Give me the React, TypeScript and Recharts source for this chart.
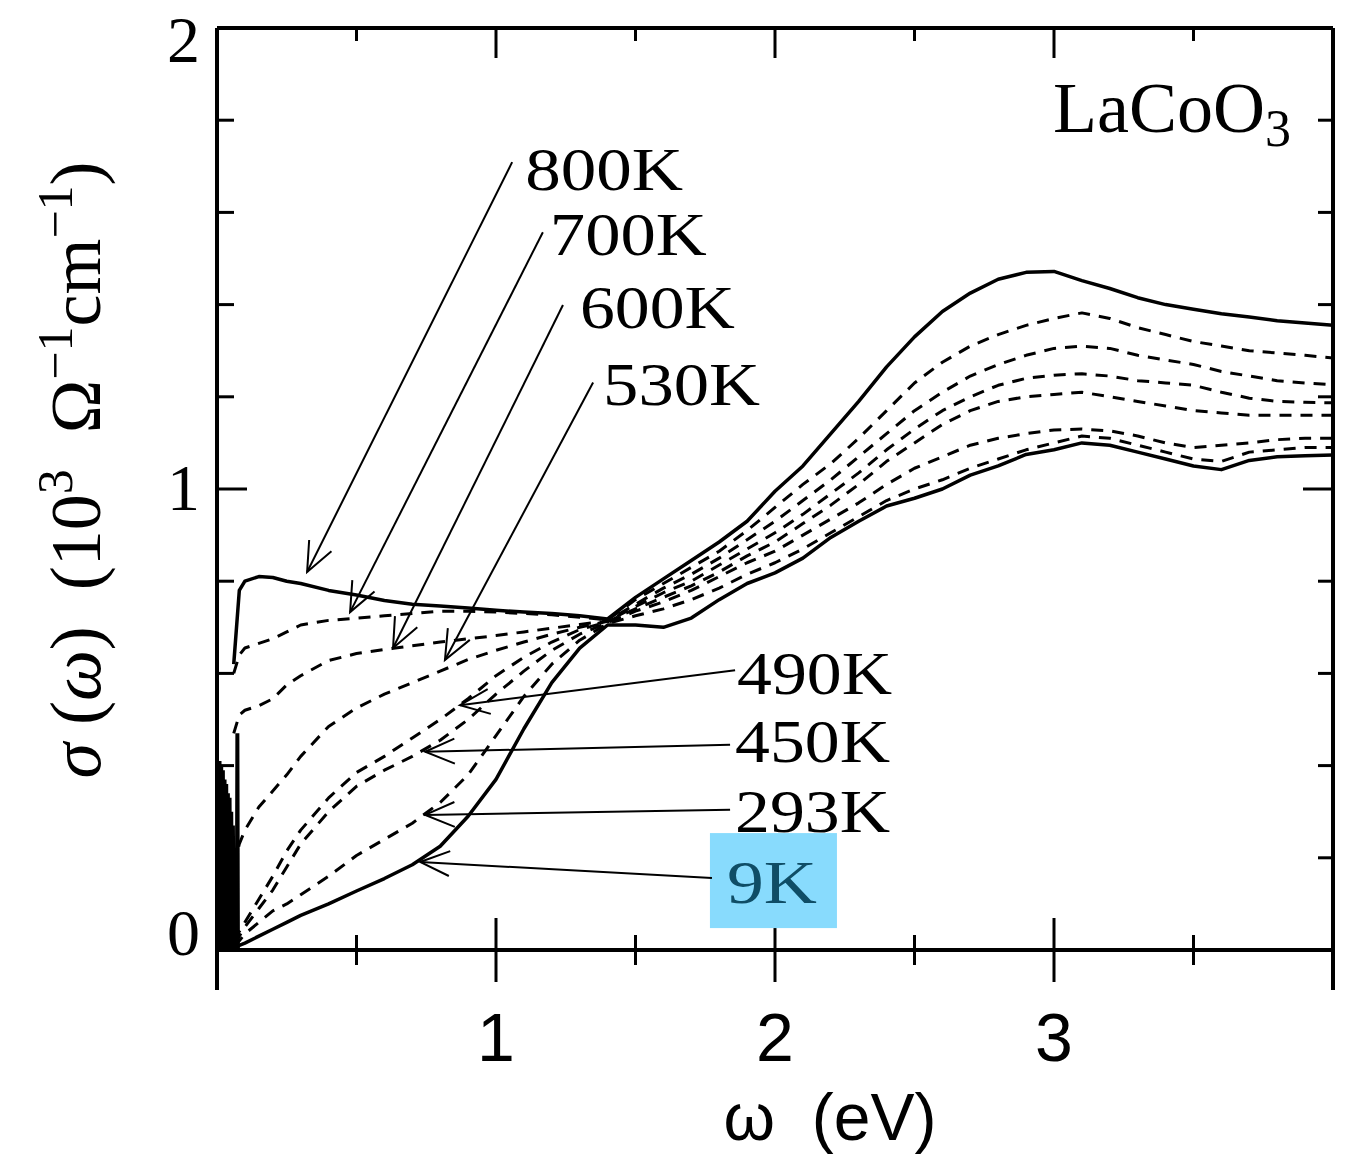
import React from "react";
import { LineChart, Line, XAxis, YAxis, ReferenceLine } from "recharts";

// photon energy grid (eV)
const W = [
  0.06, 0.08, 0.1, 0.15, 0.2, 0.25, 0.3, 0.4, 0.5, 0.6, 0.7, 0.8, 0.9, 1.0, 1.1, 1.2, 1.3, 1.4,
  1.5, 1.6, 1.7, 1.8, 1.9, 2.0, 2.1, 2.2, 2.3, 2.4, 2.5, 2.6, 2.7, 2.8, 2.9, 3.0, 3.1, 3.2, 3.3,
  3.4, 3.5, 3.6, 3.7, 3.8, 3.9, 4.0,
];

// sigma(omega) in 10^3 Ohm^-1 cm^-1
const S800 = [
  0.62, 0.78, 0.8, 0.81, 0.808, 0.8, 0.795, 0.78, 0.77, 0.758, 0.75, 0.746, 0.742, 0.737, 0.733, 0.73, 0.725, 0.718,
  0.765, 0.805, 0.845, 0.885, 0.93, 0.995, 1.05, 1.12, 1.19, 1.265, 1.33, 1.385, 1.425, 1.455, 1.47, 1.472, 1.452, 1.435, 1.415,
  1.4, 1.39, 1.38, 1.373, 1.365, 1.36, 1.355,
];
const S700 = [
  0.6, 0.64, 0.655, 0.665, 0.675, 0.69, 0.705, 0.715, 0.72, 0.725, 0.73, 0.735, 0.735, 0.733, 0.73, 0.727, 0.722, 0.716,
  0.76, 0.795, 0.83, 0.865, 0.91, 0.96, 1.01, 1.055, 1.11, 1.17, 1.23, 1.275, 1.31, 1.335, 1.355, 1.37, 1.382, 1.37, 1.35,
  1.335, 1.32, 1.31, 1.3, 1.295, 1.29, 1.284,
];
const S600 = [
  0.47, 0.51, 0.52, 0.53, 0.545, 0.575, 0.595, 0.628, 0.643, 0.652, 0.66, 0.668, 0.675, 0.682, 0.69, 0.698, 0.706, 0.714,
  0.75, 0.785, 0.815, 0.85, 0.89, 0.93, 0.975, 1.02, 1.07, 1.12, 1.17, 1.21, 1.245, 1.27, 1.29, 1.305, 1.31, 1.305, 1.29,
  1.28, 1.27, 1.255, 1.245, 1.235, 1.23, 1.226,
];
const S530 = [
  0.18, 0.23, 0.26, 0.31, 0.345, 0.38, 0.42, 0.485, 0.525, 0.555, 0.58, 0.605, 0.63, 0.65, 0.668, 0.685, 0.7, 0.713,
  0.745, 0.775, 0.8, 0.835, 0.87, 0.905, 0.945, 0.99, 1.035, 1.085, 1.13, 1.17, 1.2, 1.225, 1.24, 1.247, 1.25, 1.245, 1.235,
  1.23, 1.225, 1.21, 1.197, 1.19, 1.188, 1.187,
];
const S490 = [
  0.02, 0.04, 0.06, 0.11, 0.16, 0.215, 0.26, 0.33, 0.385, 0.42, 0.46, 0.5, 0.545, 0.595, 0.635, 0.668, 0.695, 0.712,
  0.74, 0.765, 0.79, 0.82, 0.855, 0.885, 0.925, 0.965, 1.01, 1.06, 1.1, 1.14, 1.17, 1.19, 1.2, 1.205, 1.21, 1.2, 1.19,
  1.18, 1.17, 1.165, 1.16, 1.16, 1.16, 1.16,
];
const S450 = [
  0.015, 0.03, 0.05, 0.09, 0.13, 0.18, 0.23, 0.3, 0.355, 0.39, 0.42, 0.455, 0.5, 0.555, 0.605, 0.65, 0.685, 0.71,
  0.735, 0.755, 0.78, 0.81, 0.84, 0.865, 0.9, 0.935, 0.97, 1.01, 1.045, 1.07, 1.095, 1.11, 1.12, 1.128, 1.13, 1.126, 1.115,
  1.1, 1.09, 1.095, 1.1, 1.107, 1.11, 1.11,
];
const S293 = [
  0.01, 0.02, 0.035, 0.06, 0.085, 0.1, 0.12, 0.16, 0.205, 0.24, 0.275, 0.32, 0.38, 0.465, 0.55, 0.62, 0.672, 0.708,
  0.725, 0.74, 0.76, 0.785, 0.815, 0.84, 0.87, 0.905, 0.94, 0.975, 1.0, 1.02, 1.045, 1.065, 1.085, 1.1, 1.115, 1.11, 1.095,
  1.08, 1.065, 1.06, 1.08, 1.085, 1.09, 1.09,
];
const S9 = [
  0.005, 0.01, 0.015, 0.03, 0.045, 0.06, 0.075, 0.1, 0.128, 0.155, 0.185, 0.225, 0.29, 0.37, 0.48, 0.58, 0.655, 0.705,
  0.705, 0.7, 0.72, 0.76, 0.795, 0.818, 0.85, 0.895, 0.93, 0.963, 0.98, 1.0, 1.03, 1.05, 1.075, 1.085, 1.1, 1.095, 1.08,
  1.065, 1.05, 1.042, 1.062, 1.07, 1.072, 1.074,
];

// far-infrared phonon structure below 0.08 eV
const PH_W = [
  0.0, 0.003, 0.006, 0.009, 0.012, 0.015, 0.018, 0.021, 0.024, 0.027, 0.03, 0.033, 0.036, 0.039, 0.042, 0.045,
  0.048, 0.051, 0.054, 0.057, 0.06, 0.063, 0.066, 0.069, 0.071, 0.073, 0.075,
];
const PH_S = [
  0.0, 0.4, 0.0, 0.41, 0.0, 0.4, 0.0, 0.39, 0.0, 0.37, 0.0, 0.36, 0.0, 0.34, 0.0, 0.33, 0.0, 0.3, 0.0, 0.27,
  0.0, 0.22, 0.0, 0.15, 0.0, 0.47, 0.0,
];

const SERIES = [
  { name: "800K", values: S800, dashed: false },
  { name: "700K", values: S700, dashed: true },
  { name: "600K", values: S600, dashed: true },
  { name: "530K", values: S530, dashed: true },
  { name: "490K", values: S490, dashed: true },
  { name: "450K", values: S450, dashed: true },
  { name: "293K", values: S293, dashed: true },
  { name: "9K", values: S9, dashed: false },
];

// label arrows: start (near label) -> tip (on curve), in data units
const ARROW_LABELS = ["800K", "700K", "600K", "530K", "490K", "450K", "293K", "9K"];
const ARROW_FROM = [[1.058, 1.709], [1.168, 1.557], [1.24, 1.399], [1.348, 1.231], [1.857, 0.607], [1.839, 0.445], [1.839, 0.304], [1.774, 0.156]];
const ARROW_TIP = [[0.323, 0.82], [0.477, 0.733], [0.631, 0.655], [0.817, 0.629], [0.871, 0.531], [0.746, 0.43], [0.746, 0.293], [0.728, 0.191]];
const LABEL_OFFSET = [[13, 28], [7, 23], [17, 23], [10, 22], [2, 24], [5, 17], [5, 22], [15, 25]];
const LABEL_WIDTH = [158, 157, 155, 157, 155, 155, 155, 90];

const X_MAJOR = [1, 2, 3];
const X_MINOR = [0.5, 1.5, 2.5, 3.5];
const Y_MINOR = [0.2, 0.4, 0.6, 0.8, 1.2, 1.4, 1.6, 1.8];
const Y_MAJOR = [1];

const PX_X = 279; // px per eV
const PX_Y = 461; // px per unit sigma
const SERIF = "'Liberation Serif', 'Times New Roman', serif";
const SANS = "'Liberation Sans', Arial, sans-serif";

function makeArrow(label: string, dx: number, dy: number, width: number, box: boolean) {
  return (p: any) => {
    const { x1, y1, x2, y2 } = p;
    const ang = Math.atan2(y1 - y2, x1 - x2);
    const L = 32;
    const a = 0.4;
    const h1 = `${x2 + L * Math.cos(ang + a)},${y2 + L * Math.sin(ang + a)}`;
    const h2 = `${x2 + L * Math.cos(ang - a)},${y2 + L * Math.sin(ang - a)}`;
    return (
      <g>
        {box && <rect x={x1 - 2} y={y1 - 45} width={127} height={95} fill="#88dbfd" />}
        <line x1={x1} y1={y1} x2={x2} y2={y2} stroke="#000" strokeWidth={2} />
        <polyline points={`${h1} ${x2},${y2} ${h2}`} fill="none" stroke="#000" strokeWidth={2} />
        <text
          x={x1 + dx}
          y={y1 + dy}
          fontFamily={SERIF}
          fontSize={62}
          textLength={width}
          lengthAdjust="spacingAndGlyphs"
          fill={box ? "#0f4d66" : "#000"}
        >
          {label}
        </text>
      </g>
    );
  };
}

const XTick = (p: any) => (
  <text x={p.x} y={p.y + 111} textAnchor="middle" fontFamily={SANS} fontSize={68} fill="#000">
    {p.payload.value}
  </text>
);

const Y_DY: Record<number, number> = { 0: 5, 1: 21, 2: 34 };
const YTick = (p: any) => (
  <text x={p.x - 17} y={p.y + (Y_DY[p.payload.value] ?? 0)} textAnchor="end" fontFamily={SERIF} fontSize={66} fill="#000">
    {p.payload.value}
  </text>
);

export default function App() {
  const seg = (a: [number, number], b: [number, number], w: number, key: string) => (
    <ReferenceLine
      key={key}
      segment={[{ x: a[0], y: a[1] }, { x: b[0], y: b[1] }]}
      stroke="#000"
      strokeWidth={w}
      ifOverflow="visible"
    />
  );
  const yLow = -40 / PX_Y;

  return (
    <div style={{ position: "absolute", left: 0, top: 0, width: 1353, height: 1156, background: "#fff" }}>
      <LineChart width={1353} height={1156} margin={{ top: 28, right: 20, bottom: 126, left: 157 }}>
        <XAxis
          dataKey="w"
          type="number"
          domain={[0, 4]}
          ticks={X_MAJOR}
          allowDataOverflow
          axisLine={false}
          tickLine={false}
          tickSize={0}
          tickMargin={0}
          height={80}
          tick={<XTick />}
        />
        <YAxis
          type="number"
          domain={[0, 2]}
          ticks={[0, 1, 2]}
          allowDataOverflow
          axisLine={false}
          tickLine={false}
          tickSize={0}
          tickMargin={0}
          width={60}
          tick={<YTick />}
        />
        {/* phonon structure */}
        <Line
          data={PH_W.map((w, i) => ({ w, s: PH_S[i] }))}
          dataKey="s"
          type="linear"
          stroke="#000"
          strokeWidth={4}
          dot={false}
          isAnimationActive={false}
        />
        {SERIES.map((s) => (
          <Line
            key={s.name}
            name={s.name}
            data={W.map((w, i) => ({ w, s: s.values[i] }))}
            dataKey="s"
            type="linear"
            stroke="#000"
            strokeWidth={s.dashed ? 3 : 3.5}
            strokeDasharray={s.dashed ? "12 9" : undefined}
            strokeLinejoin="round"
            dot={false}
            isAnimationActive={false}
          />
        ))}
        {/* frame */}
        {seg([0, yLow], [0, 2], 4, "fl")}
        {seg([4, yLow], [4, 2], 4, "fr")}
        {seg([0, 2], [4, 2], 4, "ft")}
        {seg([0, 0], [4, 0], 4, "fb")}
        {/* ticks */}
        {X_MAJOR.map((x) => seg([x, 32 / PX_Y], [x, -32 / PX_Y], 3, `bM${x}`))}
        {X_MINOR.map((x) => seg([x, 15 / PX_Y], [x, -15 / PX_Y], 3, `bm${x}`))}
        {X_MAJOR.map((x) => seg([x, 2], [x, 2 - 30 / PX_Y], 3, `tM${x}`))}
        {X_MINOR.map((x) => seg([x, 2], [x, 2 - 13 / PX_Y], 3, `tm${x}`))}
        {Y_MAJOR.map((y) => seg([0, y], [30 / PX_X, y], 3, `lM${y}`))}
        {Y_MINOR.map((y) => seg([0, y], [17 / PX_X, y], 3, `lm${y}`))}
        {Y_MAJOR.map((y) => seg([4, y], [4 - 30 / PX_X, y], 3, `rM${y}`))}
        {Y_MINOR.map((y) => seg([4, y], [4 - 15 / PX_X, y], 3, `rm${y}`))}
        {/* labelled arrows */}
        {ARROW_LABELS.map((lab, i) => (
          <ReferenceLine
            key={`a${lab}`}
            segment={[
              { x: ARROW_FROM[i][0], y: ARROW_FROM[i][1] },
              { x: ARROW_TIP[i][0], y: ARROW_TIP[i][1] },
            ]}
            ifOverflow="visible"
            shape={makeArrow(lab, LABEL_OFFSET[i][0], LABEL_OFFSET[i][1], LABEL_WIDTH[i], lab === "9K")}
          />
        ))}
      </LineChart>
      <svg width={1353} height={1156} style={{ position: "absolute", left: 0, top: 0, pointerEvents: "none" }}>
        <text x={1053} y={132} fontFamily={SERIF} fontSize={72} fill="#000">
          LaCoO<tspan fontSize={52} dy={14}>3</tspan>
        </text>
        <text x={830} y={1140} textAnchor="middle" fontFamily={SANS} fontSize={66} fill="#000" xmlSpace="preserve">
          ω  (eV)
        </text>
        <text
          transform="translate(100,470) rotate(-90)"
          textAnchor="middle"
          fontFamily={SERIF}
          fontSize={72}
          fill="#000"
          xmlSpace="preserve"
        >
          <tspan fontStyle="italic">σ</tspan>
          <tspan> (</tspan>
          <tspan fontStyle="italic">ω</tspan>
          <tspan>)  (10</tspan>
          <tspan fontSize={50} dy={-28}>3</tspan>
          <tspan dy={28}>  Ω</tspan>
          <tspan fontSize={50} dy={-28}>−1</tspan>
          <tspan dy={28}>cm</tspan>
          <tspan fontSize={50} dy={-28}>−1</tspan>
          <tspan dy={28}>)</tspan>
        </text>
      </svg>
    </div>
  );
}
